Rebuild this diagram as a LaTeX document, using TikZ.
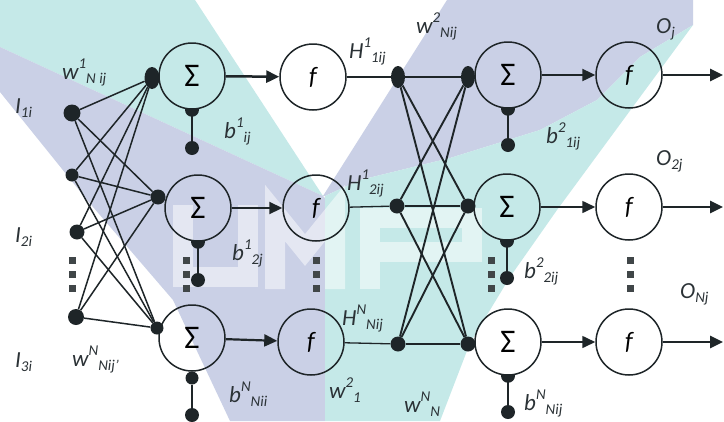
\documentclass[tikz,border=0pt]{standalone}
\usepackage{fontspec}
\setmainfont{Carlito}
\usetikzlibrary{calc,shapes.geometric,arrows.meta}

\definecolor{ink}{HTML}{1E2528}
\definecolor{txt}{HTML}{2B3236}
\definecolor{bgteal}{HTML}{C5E9E8}
\definecolor{bglav}{HTML}{CAD0E6}

% symbol with a raised index followed by a lowered index
\newcommand{\lab}[3]{#1\raisebox{0.45em}{\fontsize{15}{15}\selectfont #2}\raisebox{-0.2em}{\fontsize{15}{15}\selectfont #3}}
% bias contact: lower half of a dot sitting on a neuron's rim
\newcommand{\halfdot}[1]{\begin{scope}\clip ($(#1)+(-9,0)$) rectangle ($(#1)+(9,10)$);\fill[ink] (#1) circle[radius=7pt];\end{scope}}

\begin{document}
\begin{tikzpicture}[x=1pt,y=-1pt,
  neuron/.style={circle, draw=ink, line width=1.5pt, minimum size=66pt, inner sep=0pt},
  sumnode/.style={neuron, font=\fontsize{33}{33}\selectfont},
  actnode/.style={neuron, font=\fontsize{25}{25}\selectfont\itshape},
  jdot/.style={circle, fill=ink, inner sep=0pt, minimum size=#1},
  odot/.style={ellipse, fill=ink, inner sep=0pt, minimum width=14pt, minimum height=22pt},
  fan/.style={draw=ink, line width=1.5pt},
  cross/.style={draw=ink, line width=1.9pt},
  link/.style={draw=ink, line width=1.3pt},
  flow/.style={draw=ink, line width=#1, -{Triangle[length=13pt,width=12pt]}},
  bias/.style={draw=ink, line width=2.3pt},
  lbl/.style={anchor=base west, inner sep=0pt, text=txt, font=\fontsize{23}{26}\selectfont\itshape},
  vdot/.style={rectangle, fill=ink!85, minimum size=7pt, inner sep=0pt}
]
\useasboundingbox (0,0) rectangle (724,421);
\fill[white] (0,0) rectangle (724,421);

% ---- background emblem: two crossing two-tone bands ----
\fill[bgteal] (0,0) -- (195,0) -- (323,196) -- (0,47) -- cycle;
\fill[bglav] (0,47) -- (323,196) -- (325,198) -- (325,421) -- (230,421) -- (173,300) -- (87,200) -- (0,92) -- cycle;
\fill[bglav] (447,0) -- (693,0) -- (693,25) -- (640,57) -- (597,100) -- (540,130) -- (450,158) -- (360,180) -- (325,196) -- (323,196) -- cycle;
\fill[bgteal] (693,25) -- (640,57) -- (597,100) -- (540,130) -- (450,158) -- (360,180) -- (325,196) -- (325,421) -- (440,421) -- (470,343) -- (510,277) -- (557,210) -- cycle;
\begin{scope}[draw=white, line width=20pt, opacity=0.5]
  \draw (183,205) -- (183,277) -- (248,277) -- (248,205);
  \draw (275,289) -- (275,213) -- (305,250) -- (335,213) -- (335,289);
  \draw (370,289) -- (370,218) -- (472,218) -- (472,252) -- (370,252);
\end{scope}

% ---- neurons ----
\node[sumnode] (sA) at (192,76) {Σ};
\node[sumnode] (sB) at (198,208) {Σ};
\node[sumnode] (sC) at (192,338) {Σ};
\node[actnode] (fA) at (313,77) {f};
\node[actnode] (fB) at (316,208) {f};
\node[actnode] (fC) at (311,342) {f};
\node[sumnode] (tA) at (508,75) {Σ};
\node[sumnode] (tB) at (507,207) {Σ};
\node[sumnode] (tC) at (508,342) {Σ};
\node[actnode] (gA) at (629,75) {f};
\node[actnode] (gB) at (629,207) {f};
\node[actnode] (gC) at (629,342) {f};

% ---- input junctions ----
\node[jdot=17pt] (in1) at (72,113) {};
\node[jdot=13pt] (in2) at (72,175) {};
\node[jdot=15pt] (in3) at (77,232) {};
\node[jdot=16pt] (in4) at (76,317) {};
\node[odot, minimum width=15pt] (a1) at (152,78) {};
\node[jdot=15pt] (a2) at (158,197) {};
\node[jdot=13pt] (a3) at (157,328) {};
\foreach \i in {in1,in2,in3,in4}
  \foreach \j in {a1,a2,a3}
    \draw[fan] (\i) -- (\j);

% ---- hidden junctions ----
\node[odot] (h1) at (398,77) {};
\node[jdot=15pt] (h2) at (397,206) {};
\node[jdot=15pt] (h3) at (398,344) {};
\node[odot] (c1) at (468,77) {};
\node[jdot=15pt] (c2) at (468,206) {};
\node[jdot=15pt] (c3) at (468,344) {};
\draw[link] (fA) -- (h1); \draw[link] (h1) -- (c1);
\draw[link] (fB) -- (h2); \draw[link] (h2) -- (c2);
\draw[link] (fC) -- (h3); \draw[link] (h3) -- (c3);
\foreach \i/\j in {h1/c2,h1/c3,h2/c1,h2/c3,h3/c1,h3/c2}
  \draw[cross] (\i) -- (\j);

% ---- signal flow ----
\draw[flow=2.5pt] (sA) -- (fA);
\draw[flow=2.2pt] (sB) -- (fB);
\draw[flow=2.2pt] (sC) -- (fC);
\draw[flow=2.4pt] (tA) -- (gA);
\draw[flow=1.6pt] (tB) -- (gB);
\draw[flow=1.6pt] (tC) -- (gC);
\coordinate (mA) at (698,75);  \coordinate (oA) at (723,75);
\coordinate (mB) at (698,207); \coordinate (oB) at (723,207);
\coordinate (mC) at (698,342); \coordinate (oC) at (723,342);
\draw[link] (gA) -- (mA); \draw[flow=2.6pt] (mA) -- (oA);
\draw[link] (gB) -- (mB); \draw[flow=2.6pt] (mB) -- (oB);
\draw[link] (gC) -- (mC); \draw[flow=2.6pt] (mC) -- (oC);

% ---- biases ----
\node[jdot=14pt] (bA) at (192,148) {};
\node[jdot=14pt] (bB) at (198,280) {};
\node[jdot=14pt] (bC) at (192,415) {};
\node[jdot=13pt] (bCt) at (192,378) {};
\node[jdot=14pt] (dA) at (508,145) {};
\node[jdot=14pt] (dB) at (507,278) {};
\node[jdot=14pt] (dC) at (508,412) {};
\halfdot{sA.south} \halfdot{sB.south}
\halfdot{tA.south} \halfdot{tB.south} \halfdot{tC.south}
\draw[bias] (sA.south) -- (bA);
\draw[bias] (sB.south) -- (bB);
\draw[bias] (bCt) -- (bC);
\draw[bias] (tA.south) -- (dA);
\draw[bias] (tB.south) -- (dB);
\draw[bias] (tC.south) -- (dC);

% ---- vertical ellipses ----
\foreach \x/\n in {72/p, 186/q, 316/r, 491/s, 630/t}
  \foreach \y/\k in {260/1, 274/2, 288/3}
    \node[vdot] (\n\k) at (\x,\y) {};

% ---- labels ----
\node[lbl] (lI1) at (15,113) {\lab{I}{}{1i}};
\node[lbl] (lI2) at (15,242) {\lab{I}{}{2i}};
\node[lbl] (lI3) at (15,367) {\lab{I}{}{3i}};
\node[lbl] (lw1) at (62,79) {\lab{w}{1}{N ij}};
\node[lbl] (lwN) at (72,366) {\lab{w}{N}{Nij'}};
\node[lbl] (lb1) at (224,138) {\lab{b}{1}{ij}};
\node[lbl] (lb2) at (232,260) {\lab{b}{1}{2j}};
\node[lbl] (lb3) at (229,402) {\lab{b}{N}{Nii}};
\node[lbl] (lH1) at (349,58) {\lab{H}{1}{1ij}};
\node[lbl] (lH2) at (347,190) {\lab{H}{1}{2ij}};
\node[lbl] (lH3) at (342,325) {\lab{H}{N}{Nij}};
\node[lbl] (lw2) at (416,33) {\lab{w}{2}{Nij}};
\node[lbl] (lw21) at (329,398) {\lab{w}{2}{1}};
\node[lbl] (lwNN) at (404,412) {\lab{w}{N}{N}};
\node[lbl] (ld1) at (546,143) {\lab{b}{2}{1ij}};
\node[lbl] (ld2) at (524,278) {\lab{b}{2}{2ij}};
\node[lbl] (ld3) at (524,410) {\lab{b}{N}{Nij}};
\node[lbl] (lO1) at (656,33) {\lab{O}{}{j}};
\node[lbl] (lO2) at (656,165) {\lab{O}{}{2j}};
\node[lbl] (lO3) at (680,298) {\lab{O}{}{Nj}};
\end{tikzpicture}
\end{document}
